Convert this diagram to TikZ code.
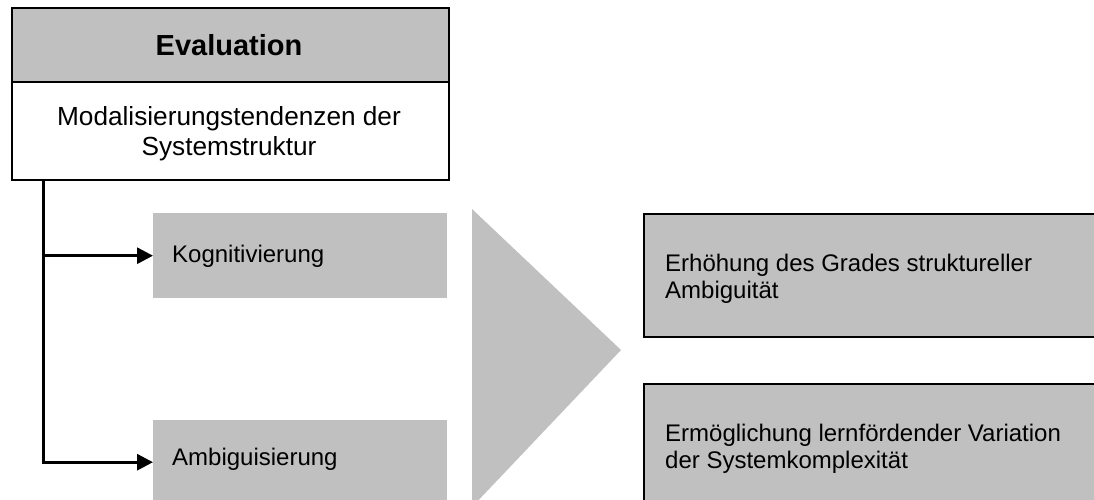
\documentclass[tikz,border=0pt]{standalone}
\usepackage{fontspec}
\setmainfont{Liberation Sans}
\usetikzlibrary{arrows.meta}
\definecolor{boxgray}{RGB}{192,192,192}
\begin{document}
\begin{tikzpicture}[x=1pt,y=-1pt,
  panel/.style={draw=black, line width=2pt, minimum width=437pt, inner sep=0pt, anchor=north west},
  graybox/.style={fill=boxgray, inner sep=0pt, anchor=north west},
  resultbox/.style={graybox, draw=black, line width=1.5pt, minimum width=480pt},
  txt/.style={font=\fontsize{24}{27}\selectfont, inner sep=0pt, anchor=base west},
  headtxt/.style={font=\fontsize{26.2}{30}\selectfont, inner sep=0pt, anchor=base},
  link/.style={line width=3pt, -{Triangle[length=16pt,width=16pt]}}
]
\useasboundingbox (0,0) rectangle (1094,499);
\begin{scope}
\clip (0,0) rectangle (1094,499);

% header panel
\node[panel, fill=boxgray, minimum height=74pt] (head) at (11,7) {};
\node[panel, fill=white, minimum height=98pt] (body) at (11,81) {};
\node[font=\bfseries\fontsize{29}{32}\selectfont, inner sep=0pt, anchor=base] (title) at (229,55) {Evaluation};
\node[headtxt] (sub1) at (229,125) {Modalisierungstendenzen der};
\node[headtxt] (sub2) at (229,155) {Systemstruktur};

% two tendencies
\node[graybox, minimum width=294pt, minimum height=85pt] (kog) at (153,213) {};
\node[txt] (kogtxt) at (172,262) {Kognitivierung};
\node[graybox, minimum width=294pt, minimum height=84pt] (amb) at (153,420) {};
\node[txt] (ambtxt) at (172,465) {Ambiguisierung};

% branching connectors
\coordinate (trunk) at (43,179);
\draw[link] (trunk) |- (amb.west);
\draw[link] (trunk |- kog.west) -- (kog.west);

% big arrow shape
\fill[boxgray] (472,209) -- (621,350) -- (472,507) -- cycle;

% results
\node[resultbox, minimum height=123pt] (res1) at (643,213) {};
\node[txt] (res1a) at (665,271) {Erhöhung des Grades struktureller};
\node[txt] (res1b) at (665,298) {Ambiguität};
\node[resultbox, minimum height=140pt] (res2) at (643,383) {};
\node[txt] (res2a) at (665,441) {Ermöglichung lernfördender Variation};
\node[txt] (res2b) at (665,468) {der Systemkomplexität};
\end{scope}
\end{tikzpicture}
\end{document}
